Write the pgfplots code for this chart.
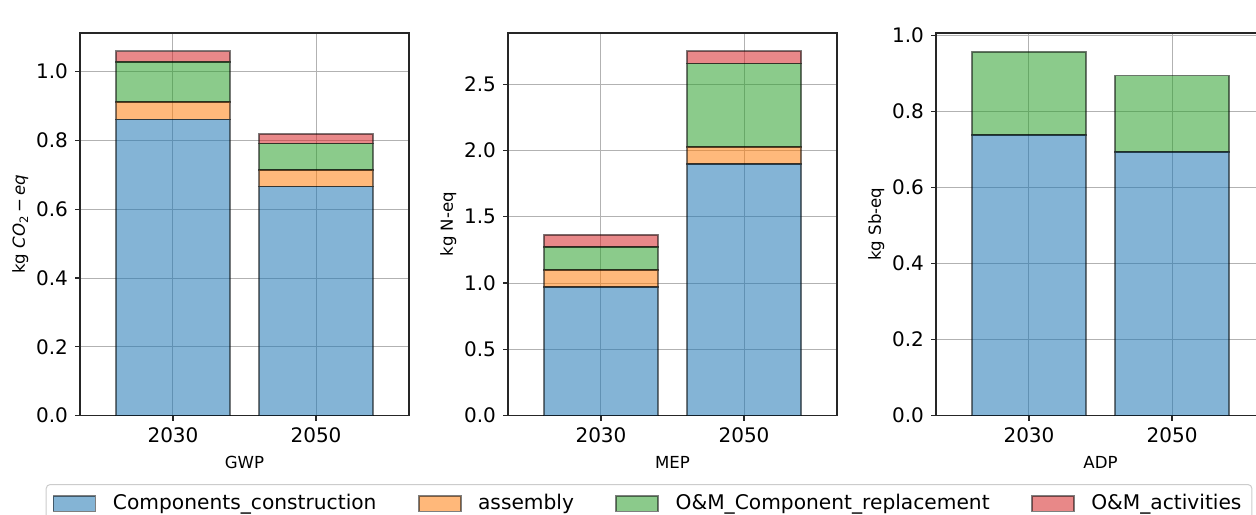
\documentclass[border=0pt]{standalone}
\usepackage{fontspec}
\setmainfont{DejaVu Sans}
\usepackage{pgfplots}
\pgfplotsset{compat=1.18}
\definecolor{tabblue}{HTML}{1F77B4}
\definecolor{taborange}{HTML}{FF7F0E}
\definecolor{tabgreen}{HTML}{2CA02C}
\definecolor{tabred}{HTML}{D62728}
\pgfplotsset{
  myaxis/.style={
    scale only axis, width=164.5pt, height=191.3pt, anchor=south west,
    ybar stacked, bar width=0.8,
    xmin=-0.65, xmax=1.65, ymin=0,
    xtick={0,1}, xticklabels={2030,2050},
    tick pos=left,
    grid=major, grid style={line width=0.5pt, black!30},
    tick align=outside, major tick length=2.5pt,
    tick style={line width=0.6pt, black!85},
    axis line style={line width=0.8pt, black!85},
    tick label style={font=\fontsize{10}{12}\selectfont},
    label style={font=\fontsize{8.3}{10}\selectfont},
    ylabel style={yshift=-3pt},
    scaled y ticks=false,
    /pgf/number format/fixed,
    /pgf/number format/fixed zerofill,
    /pgf/number format/precision=1,
    /pgf/number format/assume math mode=true,
  },
  bar/.style={fill=#1, fill opacity=0.55, draw=black, draw opacity=0.5, line width=0.9pt,
    legend image code/.code={\draw[##1, sharp corners] (0pt,-3.9pt) rectangle (21pt,3.9pt);}},
}
\begin{document}
\begin{tikzpicture}[x=0.5pt,y=0.5pt]
% ---------- GWP ----------
\begin{axis}[myaxis, at={(40pt,49.2pt)},
  ymax=1.1125, ytick={0,0.2,0.4,0.6,0.8,1.0},
  xlabel={GWP}, ylabel={kg \textit{CO}\textsubscript{2}\,−\,\textit{eq}},
  legend columns=4, legend cell align=left,
  legend style={at={(-0.1043,-0.1788)}, anchor=north west, draw=black!20, rounded corners=2pt,
    line width=0.5pt, inner xsep=3.2pt, inner ysep=3pt, font=\fontsize{10.1}{12}\selectfont,
    /tikz/every even column/.append style={column sep=18.6pt},
    /tikz/every odd column/.append style={column sep=6.3pt}},
]
\addplot[bar=tabblue] coordinates {(0,0.861) (1,0.666)};
\addplot[bar=taborange] coordinates {(0,0.051) (1,0.048)};
\addplot[bar=tabgreen] coordinates {(0,0.117) (1,0.077)};
\addplot[bar=tabred] coordinates {(0,0.030) (1,0.028)};
\legend{Components\_construction, assembly, O\&M\_Component\_replacement, O\&M\_activities}
\node[anchor=base west, inner sep=0pt, font=\fontsize{8.2}{10}\selectfont] at (rel axis cs:0,1) [yshift=2.4pt] {1e7};
\end{axis}
% ---------- MEP ----------
\begin{axis}[myaxis, at={(254pt,49.2pt)},
  ymax=2.8875, ytick={0,0.5,1.0,1.5,2.0,2.5},
  xlabel={MEP}, ylabel={kg N-eq},
]
\addplot[bar=tabblue] coordinates {(0,0.969) (1,1.900)};
\addplot[bar=taborange] coordinates {(0,0.131) (1,0.128)};
\addplot[bar=tabgreen] coordinates {(0,0.173) (1,0.629)};
\addplot[bar=tabred] coordinates {(0,0.093) (1,0.093)};
\node[anchor=base west, inner sep=0pt, font=\fontsize{8.2}{10}\selectfont] at (rel axis cs:0,1) [yshift=2.4pt] {1e4};
\end{axis}
% ---------- ADP ----------
\begin{axis}[myaxis, at={(468pt,49.2pt)},
  ymax=1.007, ytick={0,0.2,0.4,0.6,0.8,1.0},
  xlabel={ADP}, ylabel={kg Sb-eq},
]
\addplot[bar=tabblue] coordinates {(0,0.738) (1,0.694)};
\addplot[bar=taborange] coordinates {(0,0) (1,0)};
\addplot[bar=tabgreen] coordinates {(0,0.220) (1,0.201)};
\addplot[bar=tabred] coordinates {(0,0) (1,0)};
\node[anchor=base west, inner sep=0pt, font=\fontsize{8.2}{10}\selectfont] at (rel axis cs:0,1) [yshift=2.4pt] {1e3};
\end{axis}
\pgfresetboundingbox
\useasboundingbox (0,0) rectangle (1256,514);
\end{tikzpicture}
\end{document}
